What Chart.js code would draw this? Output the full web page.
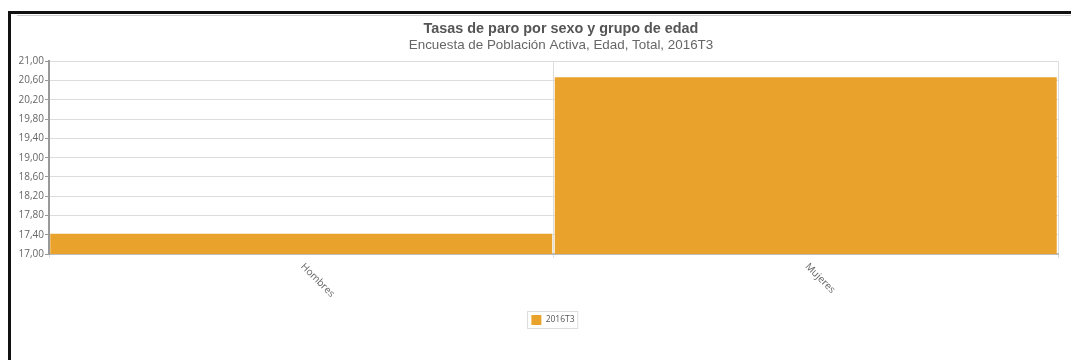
<!DOCTYPE html>
<html>
<head>
<meta charset="utf-8">
<script src="https://cdn.jsdelivr.net/npm/chart.js@4/dist/chart.umd.min.js"></script>
<style>
  html, body { margin: 0; padding: 0; background: #fff; overflow: hidden; width: 1071px; height: 360px; }
  #frame { position: absolute; left: 8px; top: 11px; width: 1100px; height: 400px; border-top: 3px solid #111; border-left: 3px solid #111; }
  #shade { position: absolute; left: 17px; top: 15px; width: 1100px; height: 1px; background: #ccc; }
  #wrap { position: absolute; left: 0; top: 0; width: 1120px; height: 360px; }
</style>
</head>
<body>
<div id="frame"></div>
<div id="shade"></div>
<div id="wrap"><canvas id="c"></canvas></div>
<script>
const titleText = 'Tasas de paro por sexo y grupo de edad';
const subtitleText = 'Encuesta de Población Activa, Edad, Total, 2016T3';
const categories = ['Hombres', 'Mujeres'];
const seriesName = '2016T3';
const values = [17.42, 20.67];
const yMin = 17.0, yMax = 21.0, yStep = 0.4;

const rotatedLabels = {
  id: 'rotatedLabels',
  afterDraw(chart) {
    const xs = chart.scales.x;
    const ctx = chart.ctx;
    ctx.save();
    ctx.font = '10px "Open Sans"';
    ctx.fillStyle = '#666';
    ctx.textAlign = 'left';
    ctx.textBaseline = 'middle';
    categories.forEach((lab, i) => {
      const x = xs.getPixelForTick(i);
      ctx.save();
      ctx.translate(x + 1, xs.top + 11);
      ctx.rotate(Math.PI / 4);
      ctx.fillText(lab, 0, 0);
      ctx.restore();
    });
    ctx.restore();
  }
};
const blockShift = {
  id: 'blockShift',
  afterLayout(chart) {
    const move = (b, s) => { b.left += s; b.right += s; };
    const lg = chart.legend;
    if (lg) {
      move(lg, 24);
      if (lg.legendHitBoxes) lg.legendHitBoxes.forEach(b => { b.left += 24; });
    }
    chart.boxes.forEach(b => {
      if (b.options && (b.options.text === titleText || b.options.text === subtitleText)) move(b, 32);
    });
  }
};
const legendFrame = {
  id: 'legendFrame',
  afterDraw(chart) {
    const boxes = chart.legend.legendHitBoxes;
    if (!boxes || !boxes.length) return;
    const b = boxes[0];
    const ctx = chart.ctx;
    ctx.save();
    ctx.strokeStyle = '#ddd';
    ctx.lineWidth = 1;
    ctx.strokeRect(Math.round(b.left) - 3.5, Math.round(b.top) - 3.5, b.width + 7, b.height + 7);
    ctx.restore();
  }
};

new Chart(document.getElementById('c'), {
  type: 'bar',
  data: {
    labels: categories,
    datasets: [{
      label: seriesName,
      data: values,
      backgroundColor: '#E9A22B',
      borderWidth: 0,
      barPercentage: 0.995,
      categoryPercentage: 1.0
    }]
  },
  options: {
    responsive: true,
    maintainAspectRatio: false,
    animation: false,
    layout: { padding: { left: 0, right: 62, top: 8, bottom: 25 } },
    plugins: {
      title: {
        display: true, text: titleText, color: '#555',
        font: { family: 'Liberation Sans', size: 14.4, weight: 'bold' },
        padding: { top: 12, bottom: 0 }
      },
      subtitle: {
        display: true, text: subtitleText, color: '#666',
        font: { family: 'Liberation Sans', size: 13.4 },
        padding: { top: 0, bottom: 8 }
      },
      legend: {
        position: 'bottom',
        labels: {
          boxWidth: 10, boxHeight: 10, color: '#555',
          font: { family: 'Open Sans', size: 8.5 }, padding: 10
        }
      },
      tooltip: { enabled: false }
    },
    scales: {
      x: {
        ticks: { display: false },
        grid: { display: true, color: '#ddd', offset: true, tickLength: 4, drawTicks: true },
        border: { display: true, color: '#bbb', width: 2 },
        afterFit(s) { s.height = 51; }
      },
      y: {
        min: yMin, max: yMax,
        ticks: {
          stepSize: yStep, color: '#666', padding: 1,
          font: { family: 'Open Sans', size: 10 },
          callback: (v) => Number(v).toFixed(2).replace('.', ',')
        },
        grid: { color: '#ddd', tickLength: 4, tickColor: '#999' },
        border: { display: true, color: '#999', width: 2 },
        afterFit(s) { s.width = 49; }
      }
    }
  },
  plugins: [blockShift, rotatedLabels, legendFrame]
});
</script>
</body>
</html>
